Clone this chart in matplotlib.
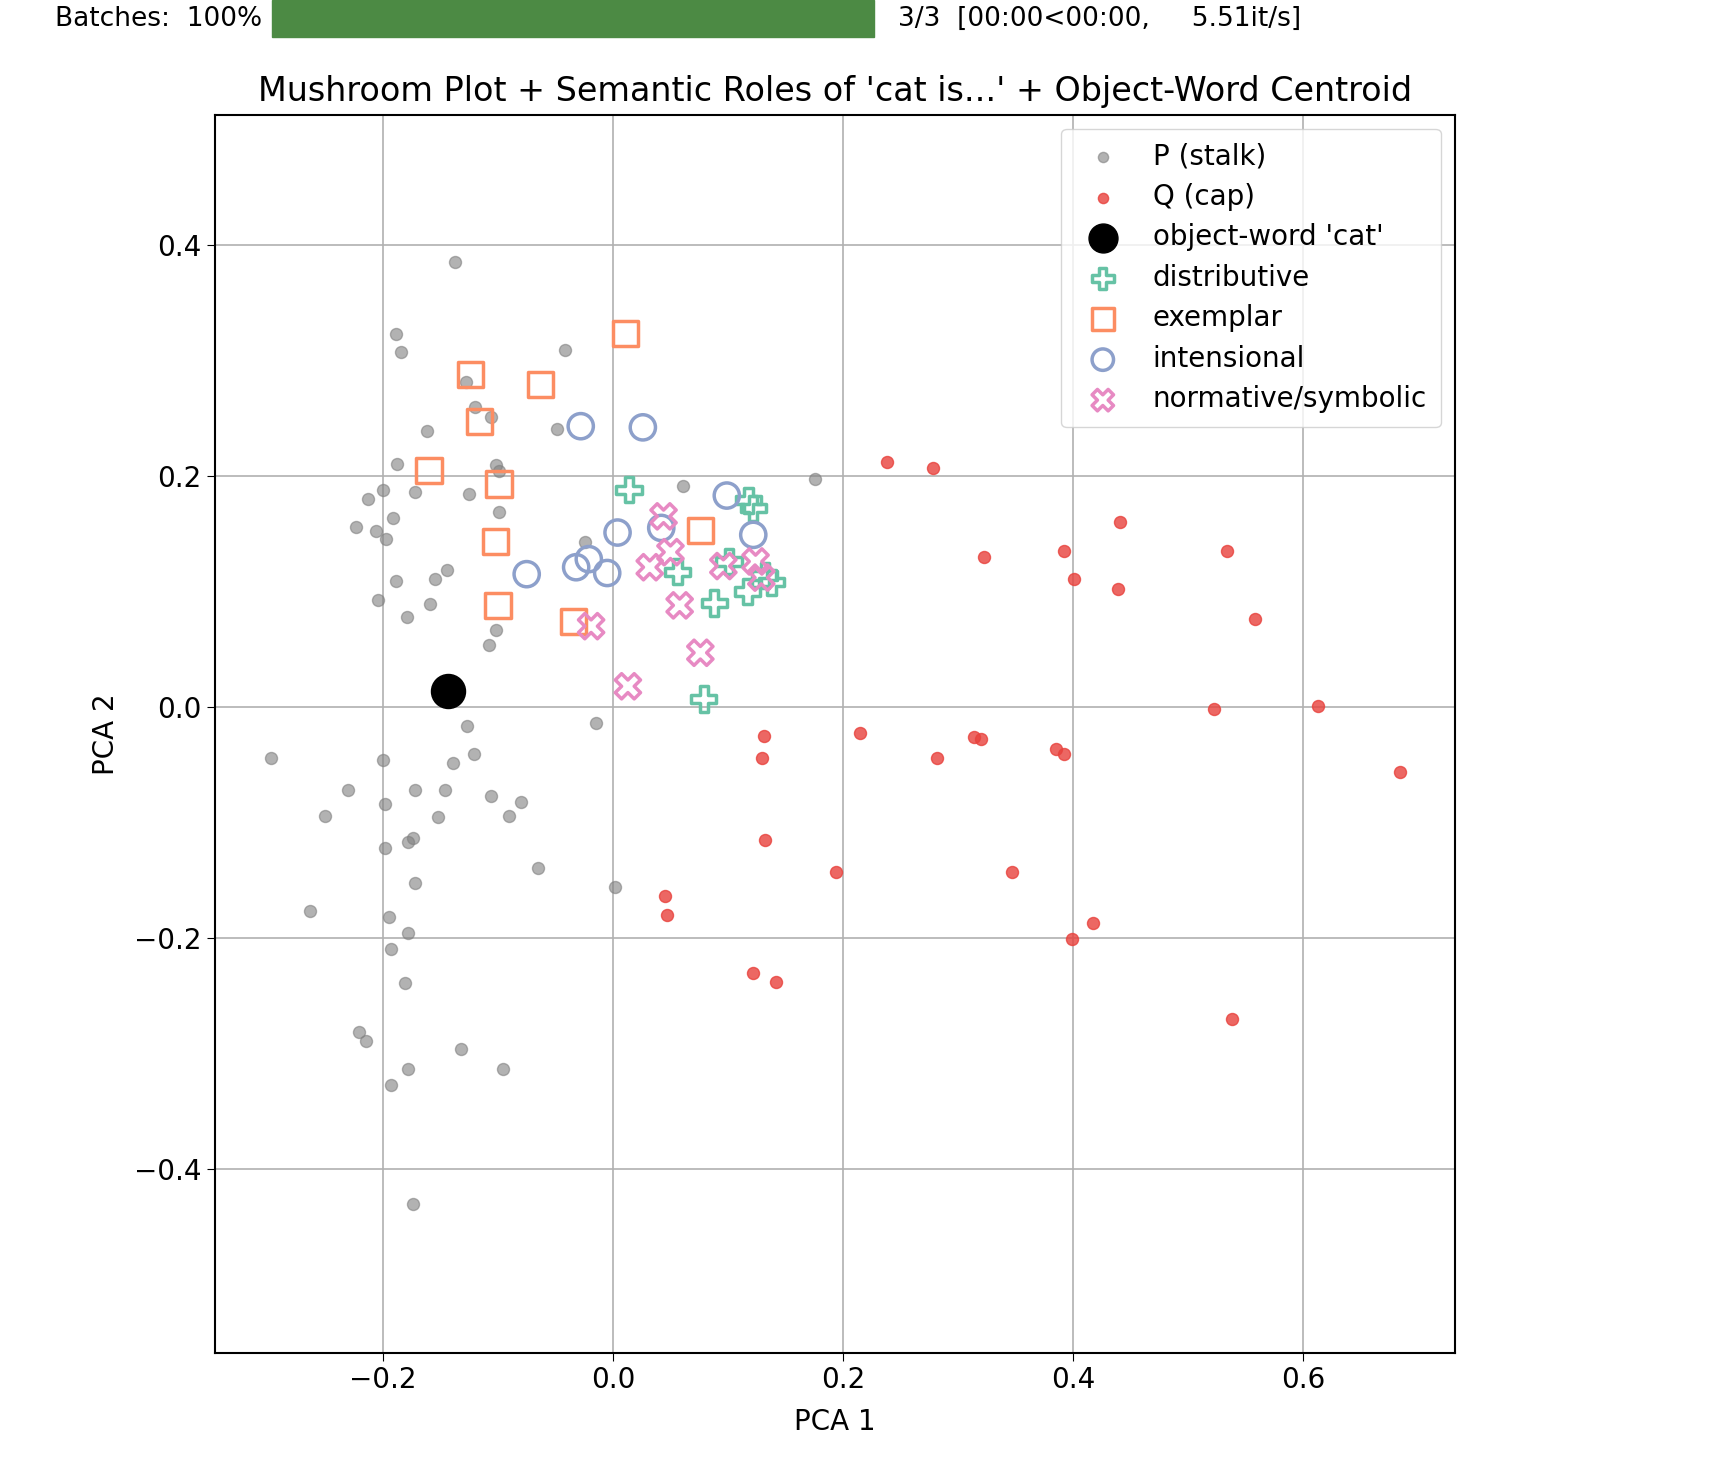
import matplotlib
matplotlib.use("Agg")
import matplotlib.pyplot as plt
from matplotlib.patches import Rectangle

p_x = [-0.137,-0.189,-0.184,-0.042,-0.128,-0.120,-0.106,-0.162,-0.049,-0.188,-0.102,-0.099,-0.172,-0.125,-0.200,-0.213,0.061,0.176,-0.191,-0.099,-0.223,-0.206,-0.197,-0.024,-0.144,-0.155,-0.189,-0.204,-0.159,-0.179,-0.102,-0.108,-0.015,-0.127,-0.121,-0.139,-0.297,-0.200,-0.230,-0.172,-0.146,-0.106,-0.080,-0.198,-0.090,-0.250,-0.152,-0.174,-0.178,-0.198,-0.065,-0.172,0.002,-0.263,-0.195,-0.178,-0.193,-0.181,-0.221,-0.215,-0.132,-0.178,-0.096,-0.193,-0.174]
p_y = [0.385,0.323,0.307,0.309,0.281,0.260,0.251,0.239,0.241,0.210,0.209,0.204,0.186,0.184,0.188,0.180,0.191,0.197,0.164,0.169,0.156,0.152,0.145,0.143,0.119,0.111,0.109,0.093,0.089,0.078,0.067,0.054,-0.014,-0.016,-0.041,-0.048,-0.044,-0.046,-0.072,-0.072,-0.072,-0.077,-0.082,-0.084,-0.094,-0.094,-0.095,-0.113,-0.117,-0.122,-0.139,-0.152,-0.156,-0.176,-0.182,-0.195,-0.209,-0.239,-0.281,-0.289,-0.296,-0.313,-0.313,-0.327,-0.430]
q_x = [0.238,0.278,0.441,0.323,0.392,0.534,0.401,0.439,0.558,0.523,0.613,0.131,0.215,0.130,0.282,0.314,0.320,0.385,0.392,0.684,0.132,0.194,0.347,0.045,0.047,0.417,0.399,0.122,0.142,0.538]
q_y = [0.212,0.207,0.160,0.130,0.135,0.135,0.111,0.102,0.076,-0.002,0.001,-0.025,-0.022,-0.044,-0.044,-0.026,-0.028,-0.036,-0.041,-0.056,-0.115,-0.143,-0.143,-0.163,-0.180,-0.187,-0.201,-0.230,-0.238,-0.270]
cat_xy = (-0.143, 0.014)

roles = ["distributive", "exemplar", "intensional", "normative/symbolic"]
dist_x = [0.014,0.118,0.122,0.101,0.056,0.132,0.138,0.117,0.088,0.079]
dist_y = [0.188,0.179,0.172,0.126,0.117,0.114,0.108,0.100,0.090,0.007]
ex_x = [0.011,-0.124,-0.063,-0.116,-0.160,-0.099,0.076,-0.102,-0.100,-0.034]
ex_y = [0.323,0.288,0.279,0.247,0.205,0.193,0.153,0.143,0.088,0.074]
int_x = [-0.028,0.026,0.099,0.004,0.042,0.122,-0.021,-0.032,-0.005,-0.075]
int_y = [0.243,0.242,0.183,0.151,0.155,0.149,0.128,0.121,0.116,0.115]
norm_x = [0.044,0.050,0.032,0.096,0.124,0.129,0.058,-0.019,0.076,0.013]
norm_y = [0.165,0.134,0.121,0.122,0.126,0.112,0.088,0.070,0.047,0.018]

fig = plt.figure(figsize=(17.34, 14.70), dpi=100)
ax = fig.add_axes([0.124, 0.0794, 0.715, 0.8426])
fs = 20

ax.scatter(p_x, p_y, s=75, color="gray", alpha=0.6, label="P (stalk)", zorder=2)
ax.scatter(q_x, q_y, s=75, color="#e8413c", alpha=0.8, label="Q (cap)", zorder=2)
ax.scatter([cat_xy[0]], [cat_xy[1]], s=600, color="black", label="object-word 'cat'", zorder=3)
role_data = [(dist_x, dist_y, "P", "#66c2a5"), (ex_x, ex_y, "s", "#fc8d62"),
             (int_x, int_y, "o", "#8da0cb"), (norm_x, norm_y, "X", "#e78ac3")]
for name, (xs, ys, m, c) in zip(roles, role_data):
    ax.scatter(xs, ys, s=330, marker=m, facecolors="none", edgecolors=c, linewidths=2.5, label=name, zorder=4)

ax.set_xlim(-0.346, 0.732)
ax.set_ylim(-0.559, 0.5125)
ax.set_xticks([-0.2, 0.0, 0.2, 0.4, 0.6])
ax.set_yticks([-0.4, -0.2, 0.0, 0.2, 0.4])
ax.set_xticklabels(["\u22120.2", "0.0", "0.2", "0.4", "0.6"])
ax.set_yticklabels(["\u22120.4", "\u22120.2", "0.0", "0.2", "0.4"])
ax.tick_params(labelsize=fs, length=6)
ax.grid(True, color="#b0b0b0", linewidth=1.2, zorder=0)
ax.set_axisbelow(True)
for s in ax.spines.values():
    s.set_linewidth(1.5)
ax.set_xlabel("PCA 1", fontsize=fs, labelpad=10)
ax.set_ylabel("PCA 2", fontsize=fs, labelpad=10)
ax.set_title("Mushroom Plot + Semantic Roles of 'cat is...' + Object-Word Centroid", fontsize=24, pad=10)
ax.legend(loc="upper right", fontsize=fs, markerscale=0.85, borderpad=0.5, labelspacing=0.45)

fig.text(0.151, 0.987, "Batches:  100%", ha="right", va="center", fontsize=19)
fig.patches.append(Rectangle((0.157, 0.975), 0.347, 0.025, transform=fig.transFigure, color="#4c8a44"))
fig.text(0.518, 0.987, "3/3  [00:00<00:00,     5.51it/s]", ha="left", va="center", fontsize=19)

fig.savefig("out.png", dpi=100)
